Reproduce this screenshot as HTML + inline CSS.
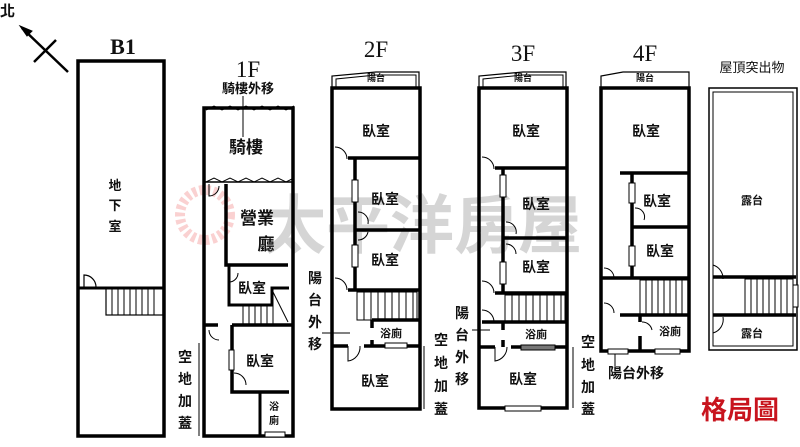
<!DOCTYPE html>
<html><head><meta charset="utf-8"><style>
html,body{margin:0;padding:0;background:#fff;}
svg text{font-family:"Liberation Sans","Noto Sans CJK TC",sans-serif;font-weight:bold;fill:#111;}
.ser{font-family:"Liberation Serif","Noto Serif CJK SC",serif;font-weight:normal;}
</style></head><body>
<svg width="800" height="442" viewBox="0 0 800 442" xmlns="http://www.w3.org/2000/svg">
<!-- watermark -->
<g opacity="0.3">
<circle cx="205" cy="215" r="25" fill="none" stroke="#e66" stroke-width="10" stroke-dasharray="4 3"/>
<text x="262" y="248" font-size="64" style="fill:#777;font-family:'Noto Sans CJK TC',sans-serif;font-weight:bold">太平洋房屋</text>
</g>
<g fill="none" stroke="#000">
<!-- north -->
<line x1="22" y1="28" x2="68" y2="72" stroke-width="2.5"/>
<polygon points="20,26 32,31 27,36" fill="#000"/>
<line x1="34" y1="62" x2="56" y2="40" stroke-width="2.5"/>
<!-- B1 -->
<rect x="78" y="61" width="86" height="375" stroke-width="3.5"/>
<line x1="78" y1="288" x2="96" y2="288" stroke-width="3"/>
<path d="M84 288 V275 A12 12 0 0 1 96 287" stroke-width="1.2"/>
<line x1="96" y1="288" x2="164" y2="288" stroke-width="3"/>
<rect x="106" y="288" width="57" height="27" stroke-width="1.2"/>
<path d="M112 288v27M118 288v27M124 288v27M130 288v27M136 288v27M142 288v27M148 288v27M154 288v27" stroke-width="1"/>
<!-- 1F -->
<rect x="204" y="108" width="89" height="328" stroke-width="3.5"/>
<path d="M206 110 l8 -4 l8 4 l8 -4 l8 4 l8 -4 l8 4 l8 -4 l8 4 l8 -4 l8 4 l8 -4" stroke-width="1"/>
<path d="M206 182 l8 -4 l8 4 l8 -4 l8 4 l8 -4 l8 4 l8 -4 l8 4 l8 -4 l8 4 l8 -4" stroke-width="1"/>
<line x1="204" y1="182" x2="293" y2="182" stroke-width="1.5"/>
<line x1="243" y1="96" x2="243" y2="137" stroke-width="1"/>
<path d="M226 184 V265 H288" stroke-width="3.5"/>
<path d="M209 184 v12 a10 10 0 0 0 10 -10" stroke-width="1"/>
<path d="M229 265 V305 H272 V288 H289" stroke-width="3"/>
<path d="M229 282 a9 9 0 0 0 9 -9" stroke-width="1"/>
<rect x="243" y="305" width="30" height="20" stroke-width="1"/>
<path d="M249 305v20M255 305v20M261 305v20M267 305v20M273 292 L288 322" stroke-width="1"/>
<path d="M204 325 H218 M232 325 H293" stroke-width="3.5"/>
<path d="M209 330 a10 10 0 0 0 10 10" stroke-width="1"/>
<path d="M232 325 V350 M232 370 V392 H289" stroke-width="3.5"/>
<rect x="229" y="350" width="5" height="20" stroke-width="1" fill="#fff"/>
<path d="M234 373 a12 12 0 0 1 12 12" stroke-width="1"/>
<path d="M260 392 V436" stroke-width="3"/>
<rect x="265" y="432" width="20" height="5" stroke-width="1" fill="#fff"/>
<path d="M199 343 V436" stroke-width="1"/>
<!-- 2F -->
<path d="M332 88 V76 L376 72 H419 V88" stroke-width="1.2"/>
<path d="M336 88 V79 L376 75 H416 V88" stroke-width="1"/>
<rect x="332" y="88" width="88" height="321" stroke-width="3.5"/>
<path d="M348 158 H420 M355 158 V290 M355 230 H420 M348 290 H420" stroke-width="3.5"/>
<path d="M335 147 a12 12 0 0 1 12 12 M335 278 a12 12 0 0 1 12 12" stroke-width="1"/>
<rect x="352" y="180" width="6" height="22" stroke-width="1" fill="#fff"/>
<rect x="352" y="245" width="6" height="22" stroke-width="1" fill="#fff"/>
<path d="M358 212 a10 10 0 0 1 10 12 M358 240 a10 10 0 0 0 10 -8" stroke-width="1"/>
<rect x="357" y="292" width="60" height="28" stroke-width="1"/>
<path d="M364 292v28M371 292v28M378 292v28M385 292v28M392 292v28M399 292v28M406 292v28M413 292v28" stroke-width="1"/>
<path d="M372 320 H420 M372 320 V328 M372 340 V346 M332 346 H348 M364 346 H420" stroke-width="3.5"/>
<path d="M348 346 v15 a14 14 0 0 0 12 -15" stroke-width="1"/>
<rect x="385" y="343" width="22" height="5" stroke-width="1" fill="#fff"/>
<line x1="322" y1="333" x2="350" y2="333" stroke-width="1"/>
<line x1="424" y1="346" x2="424" y2="409" stroke-width="1"/>
<!-- 3F -->
<path d="M479 88 V76 L523 72 H566 V88" stroke-width="1.2"/>
<path d="M483 88 V79 L523 75 H563 V88" stroke-width="1"/>
<rect x="479" y="88" width="88" height="320" stroke-width="3.5"/>
<path d="M495 168 H567 M503 168 V293 M503 238 H567 M495 293 H567" stroke-width="3.5"/>
<path d="M482 157 a12 12 0 0 1 12 12 M482 281 a12 12 0 0 1 12 12" stroke-width="1"/>
<rect x="500" y="175" width="6" height="22" stroke-width="1" fill="#fff"/>
<rect x="500" y="262" width="6" height="22" stroke-width="1" fill="#fff"/>
<path d="M506 222 a10 10 0 0 1 10 12 M506 244 a10 10 0 0 1 10 10" stroke-width="1"/>
<rect x="505" y="295" width="60" height="27" stroke-width="1"/>
<path d="M512 295v27M519 295v27M526 295v27M533 295v27M540 295v27M547 295v27M554 295v27M561 295v27" stroke-width="1"/>
<path d="M482 322 H567 M503 322 V330 M503 340 V347 M479 347 H495 M511 347 H567" stroke-width="3.5"/>
<path d="M482 310 a12 12 0 0 1 12 12 M495 347 v14 a14 14 0 0 0 12 -14" stroke-width="1"/>
<rect x="521" y="345" width="34" height="5" stroke-width="1" fill="#777"/>
<rect x="505" y="406" width="36" height="5" stroke-width="1" fill="#fff"/>
<line x1="472" y1="330" x2="490" y2="330" stroke-width="1"/>
<line x1="573" y1="347" x2="573" y2="408" stroke-width="1"/>
<!-- 4F -->
<path d="M601 88 V76 L623 72 H689 V88" stroke-width="1.2"/>
<rect x="601" y="88" width="88" height="263" stroke-width="3.5"/>
<path d="M620 173 H689 M632 173 V278 M632 227 H689 M601 278 H689 M620 315 H689 M640 315 V322 M640 336 V351" stroke-width="3.5"/>
<rect x="629" y="183" width="6" height="20" stroke-width="1" fill="#fff"/>
<rect x="629" y="246" width="6" height="20" stroke-width="1" fill="#fff"/>
<path d="M635 208 a9 9 0 0 1 9 12 M604 268 a10 10 0 0 1 10 10 M604 303 a10 10 0 0 1 10 10 M642 322 a10 10 0 0 1 10 8" stroke-width="1"/>
<rect x="640" y="280" width="48" height="35" stroke-width="1"/>
<path d="M646 280v35M652 280v35M658 280v35M664 280v35M670 280v35M676 280v35M682 280v35" stroke-width="1"/>
<rect x="608" y="349" width="20" height="5" stroke-width="1" fill="#fff"/>
<rect x="655" y="349" width="25" height="5" stroke-width="1" fill="#fff"/>
<line x1="615" y1="354" x2="615" y2="366" stroke-width="1"/>
<!-- roof -->
<rect x="709" y="88" width="88" height="262" stroke-width="1.5"/>
<rect x="713" y="92" width="80" height="254" stroke-width="1"/>
<path d="M713 277 H796 M713 315 H796" stroke-width="3.5"/>
<path d="M713 277 v-12 a14 14 0 0 1 10 14 M713 315 v18 a14 14 0 0 0 10 -16" stroke-width="1"/>
<rect x="745" y="279" width="48" height="36" stroke-width="1"/>
<path d="M751 279v36M757 279v36M763 279v36M769 279v36M775 279v36M781 279v36M787 279v36" stroke-width="1"/>
<rect x="793" y="285" width="5" height="22" stroke-width="1" fill="#fff"/>
</g>
<!-- labels -->
<text x="0" y="16" font-size="15">北</text>
<text x="123" y="54" font-size="22" class="ser" text-anchor="middle" style="font-weight:bold">B1</text>
<text x="248" y="77" font-size="23" class="ser" text-anchor="middle">1F</text>
<text x="376" y="57" font-size="23" class="ser" text-anchor="middle">2F</text>
<text x="523" y="61" font-size="23" class="ser" text-anchor="middle">3F</text>
<text x="645" y="61" font-size="23" class="ser" text-anchor="middle">4F</text>
<text x="752" y="72" font-size="13" text-anchor="middle" style="font-weight:normal">屋頂突出物</text>
<g font-size="13" text-anchor="middle">
<text x="115" y="190">地</text><text x="115" y="210">下</text><text x="115" y="231">室</text>
<text x="248" y="93" font-size="13">騎樓外移</text>
<text x="246" y="153" font-size="17">騎樓</text>
<text x="257" y="224" font-size="17">營業</text>
<text x="266" y="250" font-size="17">廳</text>
<text x="252" y="293" font-size="14">臥室</text>
<text x="260" y="366" font-size="14">臥室</text>
<text x="274" y="410" font-size="10">浴</text><text x="274" y="424" font-size="10">廁</text>
<text x="185" y="362" font-size="14">空</text><text x="185" y="384" font-size="14">地</text><text x="185" y="406" font-size="14">加</text><text x="185" y="428" font-size="14">蓋</text>
<text x="376" y="81" font-size="9">陽台</text>
<text x="376" y="136" font-size="14">臥室</text>
<text x="385" y="204" font-size="14">臥室</text>
<text x="385" y="265" font-size="14">臥室</text>
<text x="391" y="337" font-size="11">浴廁</text>
<text x="375" y="386" font-size="14">臥室</text>
<text x="315" y="283" font-size="14">陽</text><text x="315" y="305" font-size="14">台</text><text x="315" y="327" font-size="14">外</text><text x="315" y="349" font-size="14">移</text>
<text x="441" y="345" font-size="14">空</text><text x="441" y="368" font-size="14">地</text><text x="441" y="391" font-size="14">加</text><text x="441" y="414" font-size="14">蓋</text>
<text x="523" y="81" font-size="9">陽台</text>
<text x="526" y="136" font-size="14">臥室</text>
<text x="536" y="209" font-size="14">臥室</text>
<text x="536" y="272" font-size="14">臥室</text>
<text x="536" y="338" font-size="11">浴廁</text>
<text x="523" y="384" font-size="14">臥室</text>
<text x="462" y="318" font-size="14">陽</text><text x="462" y="340" font-size="14">台</text><text x="462" y="362" font-size="14">外</text><text x="462" y="384" font-size="14">移</text>
<text x="588" y="347" font-size="14">空</text><text x="588" y="370" font-size="14">地</text><text x="588" y="392" font-size="14">加</text><text x="588" y="414" font-size="14">蓋</text>
<text x="645" y="81" font-size="9">陽台</text>
<text x="646" y="136" font-size="14">臥室</text>
<text x="657" y="206" font-size="14">臥室</text>
<text x="660" y="256" font-size="14">臥室</text>
<text x="670" y="335" font-size="11">浴廁</text>
<text x="636" y="378" font-size="14">陽台外移</text>
<text x="752" y="204" font-size="11">露台</text>
<text x="752" y="337" font-size="11">露台</text>
</g>
<text x="740" y="419" font-size="26" text-anchor="middle" style="fill:#c8141e">格局圖</text>
</svg>
</body></html>
